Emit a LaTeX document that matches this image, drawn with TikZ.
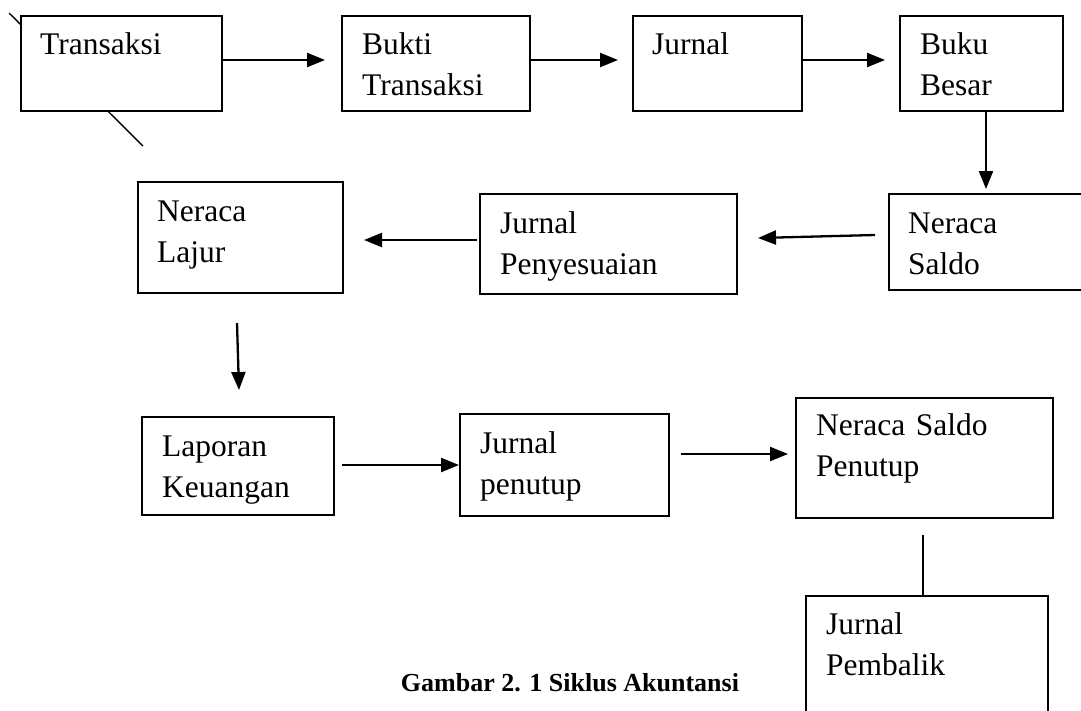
\documentclass[tikz,border=0pt]{standalone}
\usepackage{fontspec}
\setmainfont{Liberation Serif}
\usetikzlibrary{arrows.meta,calc}
\begin{document}
\begin{tikzpicture}[x=1pt,y=-1pt,
  boxnode/.style={draw=black, fill=white, line width=2pt, anchor=north west, inner sep=0pt},
  lbl/.style={anchor=base west, inner sep=0pt, text width=320pt, align=left,
    font=\fontsize{31.5}{41.5}\selectfont},
  arr/.style={line width=2.3pt, -{Triangle[length=18pt,width=14pt]}},
  plain/.style={line width=2.3pt}]
\useasboundingbox (0,0) rectangle (1081,710);
\clip (0,0) rectangle (1081,710);
\fill[white] (0,0) rectangle (1081,710);

% stray diagonal stroke behind the Transaksi box
\coordinate (d1a) at (9,13);
\coordinate (d2b) at (143,146);
\draw[line width=1.4pt] (d1a) -- (d2b);

% row 1
\node[boxnode, minimum width=201pt, minimum height=95pt] (t) at (20,15) {};
\node[lbl] (tt) at ($(t.north west)+(20,39)$) {Transaksi};
\node[boxnode, minimum width=188pt, minimum height=95pt] (b) at (341,15) {};
\node[lbl] (bt) at ($(b.north west)+(21,39)$) {Bukti\\Transaksi};
\node[boxnode, minimum width=169pt, minimum height=95pt] (j) at (632,15) {};
\node[lbl] (jt) at ($(j.north west)+(20,39)$) {Jurnal};
\node[boxnode, minimum width=163pt, minimum height=95pt] (bb) at (899,15) {};
\node[lbl] (bbt) at ($(bb.north west)+(21,39)$) {Buku\\Besar};

% row 2
\node[boxnode, minimum width=230pt, minimum height=96pt] (ns) at (888,193) {};
\node[lbl] (nst) at ($(ns.north west)+(20,40)$) {Neraca\\Saldo};
\node[boxnode, minimum width=257pt, minimum height=100pt] (jp) at (479,193) {};
\node[lbl] (jpt) at ($(jp.north west)+(21,40)$) {Jurnal\\Penyesuaian};
\node[boxnode, minimum width=205pt, minimum height=111pt] (nl) at (137,181) {};
\node[lbl] (nlt) at ($(nl.north west)+(20,40)$) {Neraca\\Lajur};

% row 3
\node[boxnode, minimum width=192pt, minimum height=98pt] (lk) at (141,416) {};
\node[lbl] (lkt) at ($(lk.north west)+(21,40)$) {Laporan\\Keuangan};
\node[boxnode, minimum width=209pt, minimum height=102pt] (jc) at (459,413) {};
\node[lbl] (jct) at ($(jc.north west)+(21,40)$) {Jurnal\\penutup};
\node[boxnode, minimum width=257pt, minimum height=120pt] (nsp) at (795,397) {};
\node[lbl] (nspt) at ($(nsp.north west)+(21,38)$) {Neraca Saldo\\Penutup};

% row 4
\node[boxnode, minimum width=242pt, minimum height=140pt] (jb) at (805,595) {};
\node[lbl] (jbt) at ($(jb.north west)+(21,39)$) {Jurnal\\Pembalik};

% caption
\node[anchor=base, inner sep=0pt, font=\fontsize{26}{30}\selectfont\bfseries] (cap) at (570,691) {Gambar 2. 1 Siklus Akuntansi};

% connectors
\draw[arr, shorten >=16pt] (t.east |- 0,60) -- (b.west |- 0,60);
\draw[arr, shorten >=14pt] (b.east |- 0,60) -- (j.west |- 0,60);
\draw[arr, shorten >=14pt] (j.east |- 0,60) -- (bb.west |- 0,60);
\draw[arr, shorten >=4pt] (bb.south -| 986,0) -- (ns.north -| 986,0);

\coordinate (a5s) at (875,235);
\coordinate (a5e) at (758,238);
\draw[arr] (a5s) -- (a5e);
\draw[arr, shorten <=2pt, shorten >=20pt] (jp.west |- 0,240) -- (nl.east |- 0,240);

\coordinate (a7s) at (237,323);
\coordinate (a7e) at (239,390);
\draw[arr] (a7s) -- (a7e);

\coordinate (a8s) at (342,465);
\draw[arr] (a8s) -- (jc.west |- 0,465);
\coordinate (a9s) at (681,454);
\draw[arr, shorten >=7pt] (a9s) -- (nsp.west |- 0,454);

\coordinate (l10) at (923,535);
\draw[plain] (l10) -- (jb.north -| 923,0);
\end{tikzpicture}
\end{document}
